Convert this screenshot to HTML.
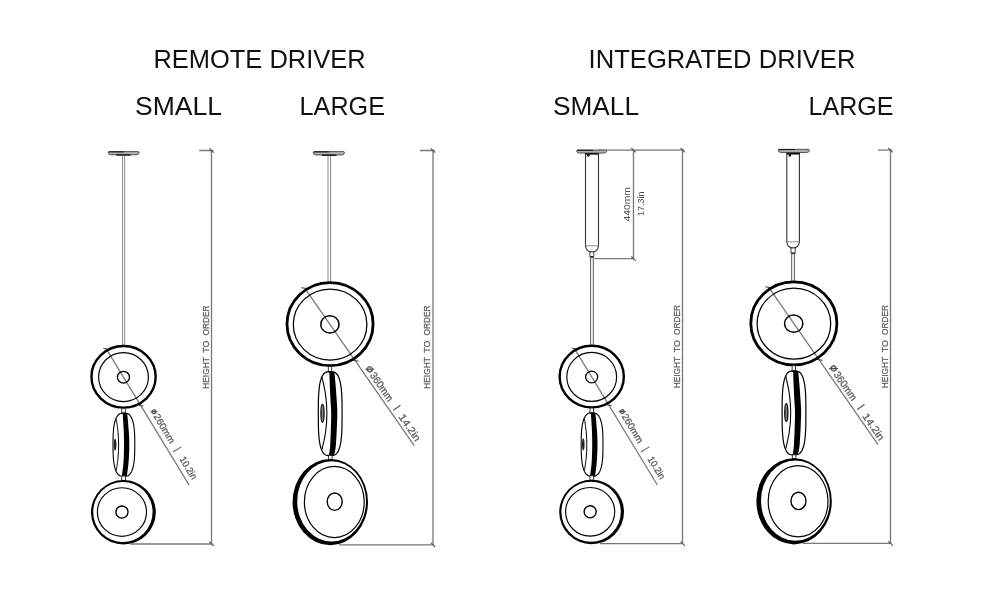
<!DOCTYPE html>
<html><head><meta charset="utf-8">
<style>
html,body{margin:0;padding:0;background:#fff;width:1000px;height:600px;overflow:hidden}
svg{display:block;will-change:transform}
text{font-family:"Liberation Sans",sans-serif}
.t{fill:#111}
.d{fill:#606060;stroke:#606060;stroke-width:0.3}
.dim{stroke:#777;stroke-width:1.3;fill:none}
.tk{stroke:#555;stroke-width:1.1;fill:none}
.k{stroke:#000;fill:none}
.d2{fill:#505050}
</style></head>
<body>
<svg width="1000" height="600" viewBox="0 0 1000 600">
<defs>

  <g id="sAsm">
    <ellipse cx="123.55" cy="376.8" rx="32.1" ry="30.8" class="k" stroke-width="2.4"/>
    <ellipse cx="123.5" cy="377.1" rx="24.9" ry="24.5" class="k" stroke-width="1.15"/>
    <ellipse cx="123.45" cy="377.2" rx="6.05" ry="5.85" class="k" stroke-width="1.3"/>
    <rect x="121.75" y="408.3" width="3.5" height="4.8" fill="#fff" stroke="#222" stroke-width="0.9"/>
    <clipPath id="cs"><path d="M134.80 444.75 L134.73 452.16 L134.53 456.84 L134.20 460.74 L133.74 464.10 L133.14 467.02 L132.41 469.54 L131.55 471.66 L130.54 473.40 L129.39 474.75 L128.05 475.72 L126.45 476.31 L123.90 476.50 L121.35 476.31 L119.75 475.72 L118.41 474.75 L117.26 473.40 L116.25 471.66 L115.39 469.54 L114.66 467.02 L114.06 464.10 L113.60 460.74 L113.27 456.84 L113.07 452.16 L113.00 444.75 L113.07 437.34 L113.27 432.66 L113.60 428.76 L114.06 425.40 L114.66 422.48 L115.39 419.96 L116.25 417.84 L117.26 416.10 L118.41 414.75 L119.75 413.78 L121.35 413.19 L123.90 413.00 L126.45 413.19 L128.05 413.78 L129.39 414.75 L130.54 416.10 L131.55 417.84 L132.41 419.96 L133.14 422.48 L133.74 425.40 L134.20 428.76 L134.53 432.66 L134.73 437.34 Z"/></clipPath>
<path d="M134.80 444.75 L134.73 452.16 L134.53 456.84 L134.20 460.74 L133.74 464.10 L133.14 467.02 L132.41 469.54 L131.55 471.66 L130.54 473.40 L129.39 474.75 L128.05 475.72 L126.45 476.31 L123.90 476.50 L121.35 476.31 L119.75 475.72 L118.41 474.75 L117.26 473.40 L116.25 471.66 L115.39 469.54 L114.66 467.02 L114.06 464.10 L113.60 460.74 L113.27 456.84 L113.07 452.16 L113.00 444.75 L113.07 437.34 L113.27 432.66 L113.60 428.76 L114.06 425.40 L114.66 422.48 L115.39 419.96 L116.25 417.84 L117.26 416.10 L118.41 414.75 L119.75 413.78 L121.35 413.19 L123.90 413.00 L126.45 413.19 L128.05 413.78 L129.39 414.75 L130.54 416.10 L131.55 417.84 L132.41 419.96 L133.14 422.48 L133.74 425.40 L134.20 428.76 L134.53 432.66 L134.73 437.34 Z" class="k" stroke-width="1.1" fill="#fff"/>
<path d="M116.30 419.30 C116.58 421.42 117.62 427.72 118.00 432.00 C118.38 436.28 118.60 440.67 118.60 445.00 C118.60 449.33 118.38 453.75 118.00 458.00 C117.62 462.25 116.58 468.42 116.30 470.50" class="k" stroke-width="1"/>
<path d="M122.60 410.00 C122.63 410.83 122.62 411.67 122.80 415.00 C122.98 418.33 123.50 425.00 123.70 430.00 C123.90 435.00 124.03 439.67 124.00 445.00 C123.97 450.33 123.85 456.83 123.50 462.00 C123.15 467.17 122.22 473.00 121.90 476.00 C121.58 479.00 121.65 479.33 121.60 480.00 L126.60 480.00 C126.65 479.33 126.57 479.00 126.90 476.00 C127.23 473.00 128.20 467.17 128.60 462.00 C129.00 456.83 129.28 450.33 129.30 445.00 C129.32 439.67 129.02 435.00 128.70 430.00 C128.38 425.00 127.68 418.33 127.40 415.00 C127.12 411.67 127.07 410.83 127.00 410.00 Z" fill="#000" clip-path="url(#cs)"/>
<ellipse cx="115.1" cy="444.6" rx="1.3" ry="6.2" fill="#222"/>
    <rect x="121.7" y="476" width="3.8" height="4.4" fill="#fff" stroke="#222" stroke-width="0.9"/>
    <ellipse cx="123.4" cy="512.2" rx="32.4" ry="32.2" fill="#000"/>
    <ellipse cx="122.9" cy="512" rx="29.7" ry="30" fill="#fff"/>
    <ellipse cx="121.95" cy="512" rx="24.55" ry="24.3" class="k" stroke-width="1.15"/>
    <circle cx="121.95" cy="512" r="6.05" class="k" stroke-width="1.35"/>
  </g>
  <g id="lAsm">
    <ellipse cx="330.05" cy="324.1" rx="43.05" ry="41.5" class="k" stroke-width="2.8"/>
    <ellipse cx="330.1" cy="324.5" rx="36.8" ry="35.5" class="k" stroke-width="1.25"/>
    <ellipse cx="329.9" cy="324.4" rx="9.15" ry="8.65" class="k" stroke-width="1.5"/>
    <rect x="328.3" y="366.5" width="3.4" height="5.2" fill="#fff" stroke="#222" stroke-width="0.9"/>
    <clipPath id="cl"><path d="M342.10 413.70 L342.03 424.99 L341.84 431.26 L341.51 436.30 L341.05 440.56 L340.45 444.19 L339.72 447.28 L338.84 449.87 L337.81 451.98 L336.60 453.61 L335.18 454.77 L333.40 455.47 L330.20 455.70 L327.00 455.47 L325.22 454.77 L323.80 453.61 L322.59 451.98 L321.56 449.87 L320.68 447.28 L319.95 444.19 L319.35 440.56 L318.89 436.30 L318.56 431.26 L318.37 424.99 L318.30 413.70 L318.37 402.41 L318.56 396.14 L318.89 391.10 L319.35 386.84 L319.95 383.21 L320.68 380.12 L321.56 377.53 L322.59 375.42 L323.80 373.79 L325.22 372.63 L327.00 371.93 L330.20 371.70 L333.40 371.93 L335.18 372.63 L336.60 373.79 L337.81 375.42 L338.84 377.53 L339.72 380.12 L340.45 383.21 L341.05 386.84 L341.51 391.10 L341.84 396.14 L342.03 402.41 Z"/></clipPath>
<path d="M342.10 413.70 L342.03 424.99 L341.84 431.26 L341.51 436.30 L341.05 440.56 L340.45 444.19 L339.72 447.28 L338.84 449.87 L337.81 451.98 L336.60 453.61 L335.18 454.77 L333.40 455.47 L330.20 455.70 L327.00 455.47 L325.22 454.77 L323.80 453.61 L322.59 451.98 L321.56 449.87 L320.68 447.28 L319.95 444.19 L319.35 440.56 L318.89 436.30 L318.56 431.26 L318.37 424.99 L318.30 413.70 L318.37 402.41 L318.56 396.14 L318.89 391.10 L319.35 386.84 L319.95 383.21 L320.68 380.12 L321.56 377.53 L322.59 375.42 L323.80 373.79 L325.22 372.63 L327.00 371.93 L330.20 371.70 L333.40 371.93 L335.18 372.63 L336.60 373.79 L337.81 375.42 L338.84 377.53 L339.72 380.12 L340.45 383.21 L341.05 386.84 L341.51 391.10 L341.84 396.14 L342.03 402.41 Z" class="k" stroke-width="1.2" fill="#fff"/>
<path d="M322.00 377.00 C322.60 380.00 324.78 388.92 325.60 395.00 C326.42 401.08 326.90 407.33 326.90 413.50 C326.90 419.67 326.42 426.00 325.60 432.00 C324.78 438.00 322.60 446.58 322.00 449.50" class="k" stroke-width="1.1"/>
<path d="M329.30 368.00 C329.32 368.83 329.32 370.17 329.40 373.00 C329.48 375.83 329.62 380.50 329.80 385.00 C329.98 389.50 330.27 395.00 330.50 400.00 C330.73 405.00 331.25 407.50 331.20 415.00 C331.15 422.50 330.60 438.25 330.20 445.00 C329.80 451.75 329.07 453.17 328.80 455.50 C328.53 457.83 328.63 458.42 328.60 459.00 L333.80 459.00 C333.83 458.42 333.65 457.83 334.00 455.50 C334.35 453.17 335.35 451.75 335.90 445.00 C336.45 438.25 337.17 422.50 337.30 415.00 C337.43 407.50 336.98 405.00 336.70 400.00 C336.42 395.00 335.97 389.50 335.60 385.00 C335.23 380.50 334.72 375.83 334.50 373.00 C334.28 370.17 334.33 368.83 334.30 368.00 Z" fill="#000" clip-path="url(#cl)"/>
<ellipse cx="322.5" cy="413.3" rx="1.5" ry="8.9" fill="#8a8a8a" stroke="#111" stroke-width="1.4"/>
    <rect x="328.5" y="455.6" width="3.6" height="3.8" fill="#fff" stroke="#222" stroke-width="0.9"/>
    <ellipse cx="330.3" cy="502.1" rx="37.7" ry="43.1" fill="#000"/>
    <ellipse cx="331.6" cy="501.4" rx="34.4" ry="40.1" fill="#fff"/>
    <ellipse cx="334.3" cy="502" rx="29.9" ry="35.6" class="k" stroke-width="1.2"/>
    <ellipse cx="334.7" cy="501.7" rx="7.5" ry="8.7" class="k" stroke-width="1.4"/>
  </g>

</defs>
<text class="t" x="153.4" y="67.6" font-size="25.9" textLength="212.2" lengthAdjust="spacingAndGlyphs">REMOTE DRIVER</text>
<text class="t" x="588.6" y="67.6" font-size="25.9" textLength="266.8" lengthAdjust="spacingAndGlyphs">INTEGRATED DRIVER</text>
<text class="t" x="135" y="114.5" font-size="25.9" textLength="87" lengthAdjust="spacingAndGlyphs">SMALL</text>
<text class="t" x="299.6" y="114.5" font-size="25.9" textLength="85.4" lengthAdjust="spacingAndGlyphs">LARGE</text>
<text class="t" x="553" y="114.5" font-size="25.9" textLength="86" lengthAdjust="spacingAndGlyphs">SMALL</text>
<text class="t" x="808.6" y="114.5" font-size="25.9" textLength="85" lengthAdjust="spacingAndGlyphs">LARGE</text>
<text class="d" transform="rotate(-90)" x="-388.7" y="208.8" font-size="9.8" textLength="31.4" lengthAdjust="spacingAndGlyphs">HEIGHT</text>
<text class="d" transform="rotate(-90)" x="-352.7" y="208.8" font-size="9.8" textLength="12.1" lengthAdjust="spacingAndGlyphs">TO</text>
<text class="d" transform="rotate(-90)" x="-335.4" y="208.8" font-size="9.8" textLength="30" lengthAdjust="spacingAndGlyphs">ORDER</text>
<text class="d" transform="rotate(-90)" x="-388.7" y="430.1" font-size="9.8" textLength="31.4" lengthAdjust="spacingAndGlyphs">HEIGHT</text>
<text class="d" transform="rotate(-90)" x="-352.7" y="430.1" font-size="9.8" textLength="12.1" lengthAdjust="spacingAndGlyphs">TO</text>
<text class="d" transform="rotate(-90)" x="-335.4" y="430.1" font-size="9.8" textLength="30" lengthAdjust="spacingAndGlyphs">ORDER</text>
<text class="d" transform="rotate(-90)" x="-388.3" y="679.8" font-size="9.8" textLength="31.4" lengthAdjust="spacingAndGlyphs">HEIGHT</text>
<text class="d" transform="rotate(-90)" x="-352.3" y="679.8" font-size="9.8" textLength="12.1" lengthAdjust="spacingAndGlyphs">TO</text>
<text class="d" transform="rotate(-90)" x="-335" y="679.8" font-size="9.8" textLength="30" lengthAdjust="spacingAndGlyphs">ORDER</text>
<text class="d" transform="rotate(-90)" x="-388.3" y="887.7" font-size="9.8" textLength="31.4" lengthAdjust="spacingAndGlyphs">HEIGHT</text>
<text class="d" transform="rotate(-90)" x="-352.3" y="887.7" font-size="9.8" textLength="12.1" lengthAdjust="spacingAndGlyphs">TO</text>
<text class="d" transform="rotate(-90)" x="-335" y="887.7" font-size="9.8" textLength="30" lengthAdjust="spacingAndGlyphs">ORDER</text>
<text class="d2" transform="rotate(-90)" x="-221.4" y="630.1" font-size="9.6" textLength="34.3" lengthAdjust="spacingAndGlyphs">440mm</text>
<text class="d2" transform="rotate(-90)" x="-216.1" y="644.3" font-size="9">17.3in</text>
<g transform="translate(123.45 377.1) rotate(58.7)">
<line x1="-33" y1="0" x2="126.5" y2="0" stroke="#7a7a7a" stroke-width="1.3"/>
<path class="tk" d="M-35.1 2.1 L-30.9 -2.1 M30.9 2.1 L35.1 -2.1"/>
<circle cx="45.5" cy="-8.1" r="1.9" fill="#ccc" stroke="#555" stroke-width="1.2"/>
<line x1="43.63" y1="-5.02" x2="47.37" y2="-11.18" stroke="#4a4a4a" stroke-width="1.1"/>
<text class="d" x="49" y="-5" font-size="9.6" textLength="32.5" lengthAdjust="spacingAndGlyphs">260mm</text>
<text class="d" x="88.5" y="-5.5" font-size="10.2" textLength="2.5" lengthAdjust="spacingAndGlyphs">|</text>
<text class="d" x="99" y="-5" font-size="9.6" textLength="24.8" lengthAdjust="spacingAndGlyphs">10.2in</text>
</g>
<g transform="translate(330.05 324.4) rotate(55.2)">
<line x1="-44" y1="0" x2="147.5" y2="0" stroke="#7a7a7a" stroke-width="1.3"/>
<path class="tk" d="M-46.6 2.6 L-41.4 -2.6 M41.4 2.6 L46.6 -2.6"/>
<circle cx="59.5" cy="-7" r="2.6" fill="#ccc" stroke="#555" stroke-width="1.2"/>
<line x1="56.93" y1="-3.3" x2="62.07" y2="-10.7" stroke="#4a4a4a" stroke-width="1.1"/>
<text class="d" x="64.3" y="-3.3" font-size="10.2" textLength="32.8" lengthAdjust="spacingAndGlyphs">360mm</text>
<text class="d" x="105.3" y="-5.1" font-size="9" textLength="2.6" lengthAdjust="spacingAndGlyphs">|</text>
<text class="d" x="115" y="-3.1" font-size="10.2" textLength="30.5" lengthAdjust="spacingAndGlyphs">14.2in</text>
</g>
<g transform="translate(591.65 376.9) rotate(58.7)">
<line x1="-33" y1="0" x2="126.5" y2="0" stroke="#7a7a7a" stroke-width="1.3"/>
<path class="tk" d="M-35.1 2.1 L-30.9 -2.1 M30.9 2.1 L35.1 -2.1"/>
<circle cx="45.5" cy="-8.1" r="1.9" fill="#ccc" stroke="#555" stroke-width="1.2"/>
<line x1="43.63" y1="-5.02" x2="47.37" y2="-11.18" stroke="#4a4a4a" stroke-width="1.1"/>
<text class="d" x="49" y="-5" font-size="9.6" textLength="32.5" lengthAdjust="spacingAndGlyphs">260mm</text>
<text class="d" x="88.5" y="-5.5" font-size="10.2" textLength="2.5" lengthAdjust="spacingAndGlyphs">|</text>
<text class="d" x="99" y="-5" font-size="9.6" textLength="24.8" lengthAdjust="spacingAndGlyphs">10.2in</text>
</g>
<g transform="translate(793.85 323.6) rotate(55.2)">
<line x1="-44" y1="0" x2="147.5" y2="0" stroke="#7a7a7a" stroke-width="1.3"/>
<path class="tk" d="M-46.6 2.6 L-41.4 -2.6 M41.4 2.6 L46.6 -2.6"/>
<circle cx="59.5" cy="-7" r="2.6" fill="#ccc" stroke="#555" stroke-width="1.2"/>
<line x1="56.93" y1="-3.3" x2="62.07" y2="-10.7" stroke="#4a4a4a" stroke-width="1.1"/>
<text class="d" x="64.3" y="-3.3" font-size="10.2" textLength="32.8" lengthAdjust="spacingAndGlyphs">360mm</text>
<text class="d" x="105.3" y="-5.1" font-size="9" textLength="2.6" lengthAdjust="spacingAndGlyphs">|</text>
<text class="d" x="115" y="-3.1" font-size="10.2" textLength="30.5" lengthAdjust="spacingAndGlyphs">14.2in</text>
</g>

<!-- remote small -->
<path d="M109.20 151.60 H138.10 Q139.10 151.60 139.10 152.80 Q138.80 154.80 136.10 154.80 H111.20 Q108.50 154.80 108.20 152.80 Q108.20 151.60 109.20 151.60 Z" fill="#b0b0b0" stroke="#2a2a2a" stroke-width="0.75"/>
<line x1="108.70" y1="151.90" x2="124.00" y2="151.90" stroke="#111" stroke-width="1"/>
<rect x="116.3" y="154.3" width="14.2" height="1.4" fill="#111"/>
<line x1="122.6" y1="156" x2="122.6" y2="345.5" stroke="#7c7c7c" stroke-width="0.9"/>
<line x1="124.7" y1="156" x2="124.7" y2="345.5" stroke="#7c7c7c" stroke-width="0.9"/>
<use href="#sAsm"/>
<path class="dim" d="M199.2 150.5 H213.5 M211.5 150.5 V544 M130 544 H212.5"/>
<path class="tk" d="M209.3 148.3 L213.7 152.7 M209.3 541.6 L213.7 546"/>

<!-- remote large -->
<path d="M314.20 151.60 H343.50 Q344.50 151.60 344.50 152.80 Q344.20 155.00 341.50 155.00 H316.20 Q313.50 155.00 313.20 152.80 Q313.20 151.60 314.20 151.60 Z" fill="#b0b0b0" stroke="#2a2a2a" stroke-width="0.75"/>
<line x1="313.70" y1="151.90" x2="329.00" y2="151.90" stroke="#111" stroke-width="1"/>
<rect x="322" y="154.5" width="14.3" height="1.4" fill="#111"/>
<line x1="328" y1="156" x2="328" y2="282" stroke="#7c7c7c" stroke-width="0.9"/>
<line x1="330.6" y1="156" x2="330.6" y2="282" stroke="#7c7c7c" stroke-width="0.9"/>
<use href="#lAsm"/>
<path class="dim" d="M420 150.5 H434.8 M433 150.5 V544.8 M339 544.8 H434"/>
<path class="tk" d="M430.8 148.3 L435.2 152.7 M430.8 542.6 L435.2 547"/>

<!-- integrated small -->
<path d="M577.70 150.00 H605.70 Q606.70 150.00 606.70 151.20 Q606.40 153.10 603.70 153.10 H579.70 Q577.00 153.10 576.70 151.20 Q576.70 150.00 577.70 150.00 Z" fill="#b0b0b0" stroke="#2a2a2a" stroke-width="0.75"/>
<line x1="577.20" y1="150.30" x2="593.00" y2="150.30" stroke="#111" stroke-width="1"/>
<path d="M585.5 245.8 V154 H598.5 V245.8 A6.5 6.5 0 0 1 585.5 245.8 Z" stroke="#333" stroke-width="1.1" fill="#fff"/>
<line x1="585.5" y1="245.8" x2="598.5" y2="245.8" stroke="#888" stroke-width="1"/>
<rect x="585" y="153.1" width="14" height="1.3" fill="#111"/>
<rect x="587" y="154" width="2.6" height="2.8" rx="1.2" fill="#111"/>
<rect x="589.9" y="252" width="3.9" height="4.5" fill="#fff" stroke="#333" stroke-width="0.9"/>
<rect x="590.2" y="256.4" width="3.4" height="1.6" fill="#333"/>
<line x1="590.6" y1="258" x2="590.6" y2="345" stroke="#444" stroke-width="0.9"/>
<line x1="593.3" y1="258" x2="593.3" y2="345" stroke="#444" stroke-width="0.9"/>
<use href="#sAsm" transform="translate(468.2 -0.2)"/>
<path class="dim" d="M598 150.2 H684.3 M633.5 150.2 V258.7 M594.5 258.7 H634 M682.5 150.2 V543.6 M600 543.6 H683.3"/>
<path class="tk" d="M631.3 148 L635.7 152.4 M631.3 256.5 L635.7 260.9 M680.6 148 L685 152.4 M680.6 541.4 L685 545.8"/>

<!-- integrated large -->
<path d="M779.20 149.30 H808.50 Q809.50 149.30 809.50 150.50 Q809.20 152.50 806.50 152.50 H781.20 Q778.50 152.50 778.20 150.50 Q778.20 149.30 779.20 149.30 Z" fill="#b0b0b0" stroke="#2a2a2a" stroke-width="0.75"/>
<line x1="778.70" y1="149.60" x2="795.00" y2="149.60" stroke="#111" stroke-width="1"/>
<path d="M786.8 241.8 V154 H799.4 V241.8 A6.3 6.3 0 0 1 786.8 241.8 Z" stroke="#333" stroke-width="1.1" fill="#fff"/>
<line x1="786.8" y1="241.8" x2="799.4" y2="241.8" stroke="#888" stroke-width="1"/>
<rect x="786.3" y="152.8" width="13.6" height="1.4" fill="#111"/>
<rect x="788.6" y="153.8" width="2.6" height="2.8" rx="1.2" fill="#111"/>
<rect x="791" y="248" width="4.2" height="5" fill="#fff" stroke="#333" stroke-width="0.9"/>
<rect x="791.2" y="252.6" width="3.8" height="1.6" fill="#333"/>
<line x1="791.7" y1="254" x2="791.7" y2="281.5" stroke="#444" stroke-width="0.9"/>
<line x1="794.4" y1="254" x2="794.4" y2="281.5" stroke="#444" stroke-width="0.9"/>
<use href="#lAsm" transform="translate(463.8 -0.8)"/>
<path class="dim" d="M878 150.2 H892.3 M890.5 150.2 V543.4 M803 543.4 H891.5"/>
<path class="tk" d="M888.3 148 L892.7 152.4 M888.3 541.2 L892.7 545.6"/>

</svg>
</body></html>
